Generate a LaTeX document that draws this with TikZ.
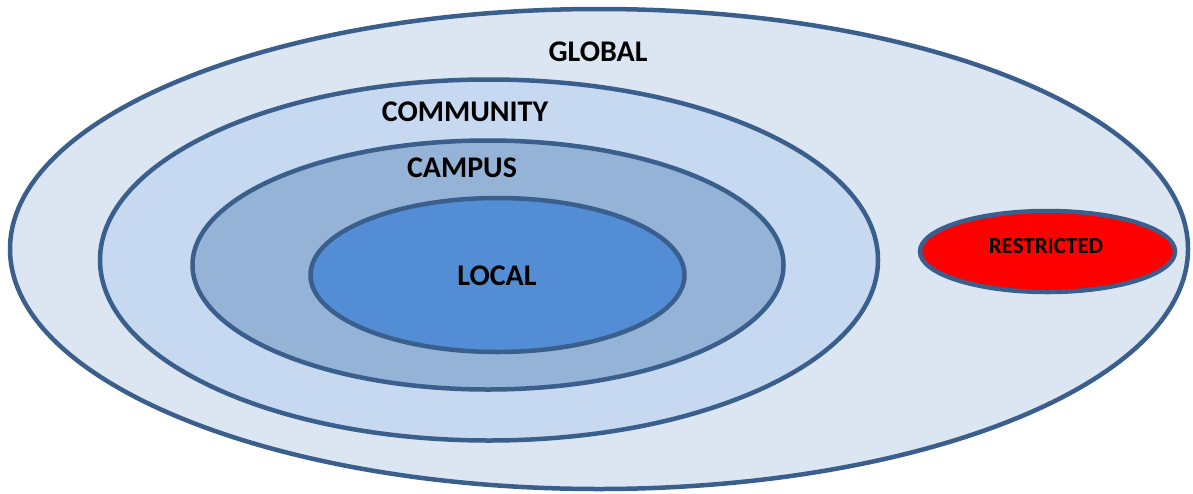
\documentclass[tikz,border=0pt]{standalone}
\usepackage{fontspec}
\setmainfont{Carlito}
\usetikzlibrary{shapes.geometric}
\definecolor{edgeblue}{RGB}{58,95,140}
\definecolor{globalfill}{RGB}{220,230,242}
\definecolor{communityfill}{RGB}{198,217,241}
\definecolor{campusfill}{RGB}{149,179,215}
\definecolor{localfill}{RGB}{83,141,213}
\definecolor{restrictedfill}{RGB}{255,0,0}
\tikzset{
  ring/.style={ellipse, draw=edgeblue, line width=4.5pt, inner sep=0pt},
  lbl/.style={font=\fontsize{30}{31}\selectfont\bfseries, text=black, inner sep=0pt},
  smalllbl/.style={font=\fontsize{23}{24}\selectfont\bfseries, text=black, inner sep=0pt}
}
\begin{document}
\begin{tikzpicture}[x=1pt,y=-1pt]
\useasboundingbox (0,0) rectangle (1193,493);
\node[ring, fill=globalfill, minimum width=1178pt, minimum height=480pt] (global) at (599,249) {};
\node[ring, fill=communityfill, minimum width=778pt, minimum height=361pt] (community) at (489,260) {};
\node[ring, fill=campusfill, minimum width=591pt, minimum height=249pt] (campus) at (488,265) {};
\node[ring, fill=localfill, minimum width=374pt, minimum height=154pt] (local) at (497.5,275) {};
\node[ring, fill=restrictedfill, minimum width=255pt, minimum height=81pt] (restricted) at (1047.5,251.5) {};
\node[lbl] (globaltext) at (598,52) {GLOBAL};
\node[lbl] (communitytext) at (465,112) {COMMUNITY};
\node[lbl] (campustext) at (462,168) {CAMPUS};
\node[lbl] (localtext) at (497,276) {LOCAL};
\node[smalllbl] (restrictedtext) at (1046,246) {RESTRICTED};
\end{tikzpicture}
\end{document}
